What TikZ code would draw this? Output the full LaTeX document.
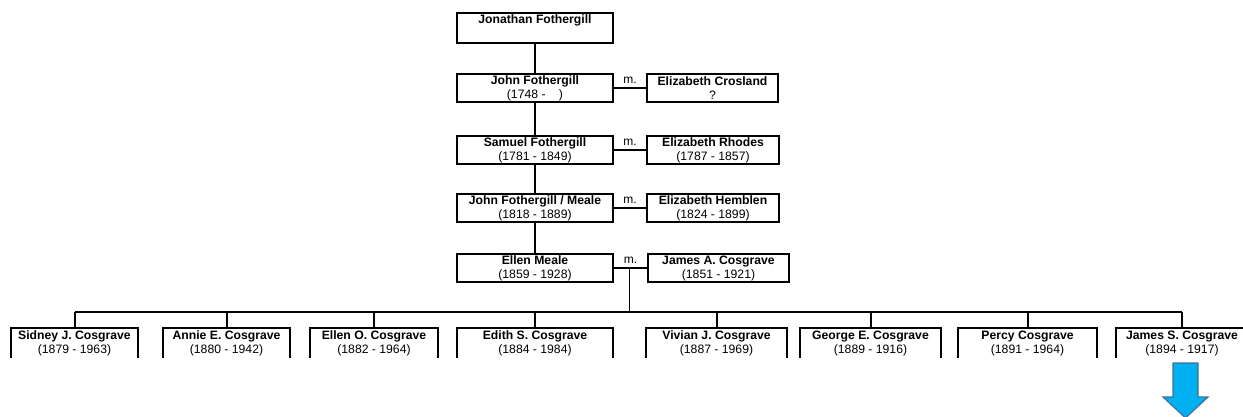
\documentclass[tikz,border=0pt]{standalone}
\usepackage{fontspec}
\setmainfont{Liberation Sans}
\usetikzlibrary{arrows,positioning}

\definecolor{arrowblue}{RGB}{0,176,240}
\definecolor{arrowedge}{RGB}{65,113,156}

\begin{document}
\begin{tikzpicture}[x=1pt,y=-1pt,
        person/.style={draw,line width=2pt,minimum height=28pt,inner sep=0pt,
          align=center,font=\fontsize{12.2}{14}\selectfont},
        kid/.style={minimum height=30pt,inner sep=0pt,align=center,
          font=\fontsize{12.2}{14}\selectfont},
        line/.style={line width=2pt},
        thinline/.style={line width=1pt},
        wed/.style={font=\fontsize{12}{14}\selectfont,above}]
        \useasboundingbox (0,0) rectangle (1243,416);

        % ancestors
        \node[person, minimum width=156pt, minimum height=30pt] (jonathan) at (535,28) {\textbf{Jonathan Fothergill}\\\strut};
        \node[person, minimum width=156pt] (john) at (535,88) {\textbf{John Fothergill}\\(1748 -\hspace{1.1em})};
        \node[person, minimum width=131pt] (crosland) [right=32pt of john] {\textbf{Elizabeth Crosland}\\?};
        \node[person, minimum width=156pt] (samuel) at (535,150) {\textbf{Samuel Fothergill}\\(1781 - 1849)};
        \node[person, minimum width=132pt] (rhodes) [right=32pt of samuel] {\textbf{Elizabeth Rhodes}\\(1787 - 1857)};
        \node[person, minimum width=156pt] (meale) at (535,208) {\textbf{John Fothergill / Meale}\\(1818 - 1889)};
        \node[person, minimum width=132pt] (hemblen) [right=32pt of meale] {\textbf{Elizabeth Hemblen}\\(1824 - 1899)};
        \node[person, minimum width=156pt] (ellen) at (535,268) {\textbf{Ellen Meale}\\(1859 - 1928)};
        \node[person, minimum width=141pt] (jamesA) [right=33pt of ellen] {\textbf{James A. Cosgrave}\\(1851 - 1921)};

        \draw[line] (jonathan) -- (john);
        \draw[line] (john) -- (samuel);
        \draw[line] (samuel) -- (meale);
        \draw[line] (meale) -- (ellen);

        \draw[line] (john) -- node[wed] {m.} (crosland);
        \draw[line] (samuel) -- node[wed] {m.} (rhodes);
        \draw[line] (meale) -- node[wed] {m.} (hemblen);
        \draw[line] (ellen) -- node[wed] {m.} (jamesA);

        % children of Ellen and James
        \coordinate (fam) at (629,312);
        \node[kid, minimum width=127pt] (sidney) at (74.5,343) {\textbf{Sidney J. Cosgrave}\\(1879 - 1963)};
        \node[kid, minimum width=127pt] (annie) at (226.5,343) {\textbf{Annie E. Cosgrave}\\(1880 - 1942)};
        \node[kid, minimum width=128pt] (elleno) at (374,343) {\textbf{Ellen O. Cosgrave}\\(1882 - 1964)};
        \node[kid, minimum width=156pt] (edith) at (535,343) {\textbf{Edith S. Cosgrave}\\(1884 - 1984)};
        \node[kid, minimum width=141pt] (vivian) at (716.5,343) {\textbf{Vivian J. Cosgrave}\\(1887 - 1969)};
        \node[kid, minimum width=141pt] (george) at (870.5,343) {\textbf{George E. Cosgrave}\\(1889 - 1916)};
        \node[kid, minimum width=139pt] (percy) at (1027.5,343) {\textbf{Percy Cosgrave}\\(1891 - 1964)};
        \node[kid, minimum width=132pt] (jamesS) at (1182,343) {\textbf{James S. Cosgrave}\\(1894 - 1917)};

        \draw[thinline] (fam |- ellen) -- (fam);
        \draw[line] (sidney.north |- fam) -- (jamesS.north |- fam);
        \foreach \k in {sidney,annie,elleno,edith,vivian,george,percy,jamesS} {
          \draw[line] (\k.south west) |- (\k.north east) -- (\k.south east);
          \draw[line] (\k.north) -- (\k.north |- fam);
        }

        % continues below
        \filldraw[fill=arrowblue, draw=arrowedge, line width=1.2pt]
          (1173,363) -- (1198,363) -- (1198,397) -- (1208,397) -- (1185.5,418)
          -- (1163,397) -- (1173,397) -- cycle;
      \end{tikzpicture}
\end{document}
